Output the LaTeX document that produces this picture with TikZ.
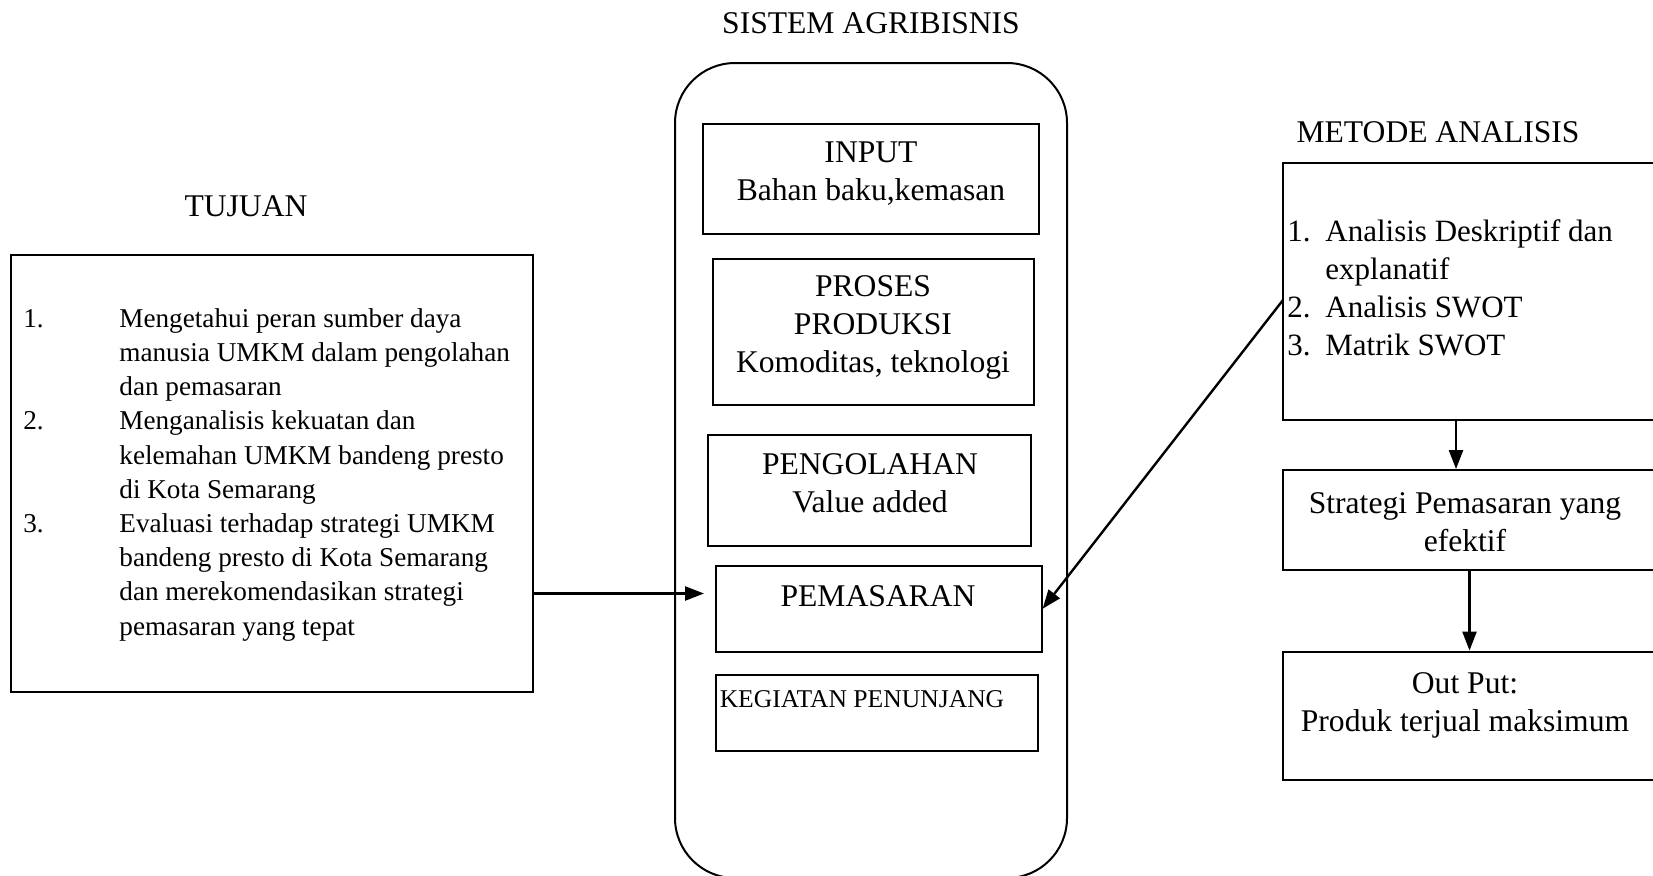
\documentclass[tikz,border=0pt]{standalone}
\usepackage{fontspec}
\setmainfont{Liberation Serif}
\usetikzlibrary{arrows.meta}

\begin{document}
\begin{tikzpicture}[x=0.5pt, y=-0.5pt,
        box/.style = {draw, rectangle, inner sep=0pt, line width=1pt},
        txt/.style = {inner sep=0pt, align=center, font=\fontsize{15.8}{19}\selectfont},
        arr/.style = {-{Triangle[length=9.5pt,width=7pt]}, line width=1.2pt}]
    \useasboundingbox (0,0) rectangle (1653,875);

    % Titles
    \node[txt] (judul) at (871,23) {SISTEM AGRIBISNIS};
    \node[txt] (judulTujuan) at (246,206) {TUJUAN};
    \node[txt] (judulMetode) at (1438,132) {METODE ANALISIS};

    % Tujuan (left box)
    \node[box, minimum width=261pt, minimum height=218.3pt] (tujuan) at (271.5,473.3) {};
    \node[inner sep=0pt, anchor=north west, font=\fontsize{13.6}{17.1}\selectfont] (tujuanTeks) at (23,303) {%
        \begin{tabular}{@{}p{48pt}@{}l@{}}
            1. & Mengetahui peran sumber daya \\
               & manusia UMKM dalam pengolahan \\
               & dan pemasaran \\
            2. & Menganalisis kekuatan dan \\
               & kelemahan UMKM bandeng presto \\
               & di Kota Semarang \\
            3. & Evaluasi terhadap strategi UMKM \\
               & bandeng presto di Kota Semarang \\
               & dan merekomendasikan strategi \\
               & pemasaran yang tepat
        \end{tabular}};

    % Sistem agribisnis (rounded frame and its subsystems)
    \node[box, rounded corners=30pt, minimum width=196pt, minimum height=407.5pt] (sistem) at (871,470.5) {};
    \node[box, minimum width=168pt, minimum height=55pt] (input) at (871,179) {};
    \node[txt] (inputTeks) at (871,174) {INPUT\\Bahan baku,kemasan};
    \node[box, minimum width=160.7pt, minimum height=73pt] (proses) at (873.4,332) {};
    \node[txt] (prosesTeks) at (873,327) {PROSES\\PRODUKSI\\Komoditas, teknologi};
    \node[box, minimum width=161.5pt, minimum height=55.5pt] (olah) at (869.5,490.5) {};
    \node[txt] (olahTeks) at (870,483) {PENGOLAHAN\\Value added};
    \node[box, minimum width=162.8pt, minimum height=42.75pt] (pasar) at (878.8,608.8) {};
    \node[txt] (pasarTeks) at (878,596) {PEMASARAN};
    \node[box, minimum width=161pt, minimum height=37.8pt] (tunjang) at (877,712.8) {};
    \node[txt, font=\fontsize{12.8}{15}\selectfont] (tunjangTeks) at (862,699) {KEGIATAN PENUNJANG};

    % Metode analisis (right column, runs past the right edge)
    \node[box, minimum width=189.5pt, minimum height=128.1pt] (metode) at (1472.5,291.5) {};
    \node[inner sep=0pt, anchor=north west, font=\fontsize{15.5}{19.1}\selectfont] (metodeTeks) at (1287,214) {%
        \begin{tabular}{@{}p{19pt}@{}l@{}}
            1. & Analisis Deskriptif dan \\
               & explanatif \\
            2. & Analisis SWOT \\
            3. & Matrik SWOT
        \end{tabular}};
    \node[box, minimum width=189.5pt, minimum height=50.15pt] (strategi) at (1472.5,520.2) {};
    \node[txt] (strategiTeks) at (1465,522) {Strategi Pemasaran yang\\efektif};
    \node[box, minimum width=189.5pt, minimum height=64.25pt] (output) at (1472.5,715.8) {};
    \node[txt] (outputTeks) at (1465,705) {Out Put:\\Produk terjual maksimum};

    % Connectors
    \coordinate (pasarMasuk) at (704,593.5);
    \coordinate (metodeKeluar) at (1283,300);
    \draw[arr] (tujuan.east |- pasarMasuk) -- (pasarMasuk);
    \draw[arr] (metodeKeluar) -- (pasar.east);
    \draw[arr] ([xshift=-8.25pt]metode.south) -- ([xshift=-8.25pt]strategi.north);
    \draw[arr] ([xshift=-1.5pt]strategi.south) -- ([xshift=-1.5pt]output.north);
\end{tikzpicture}
\end{document}
